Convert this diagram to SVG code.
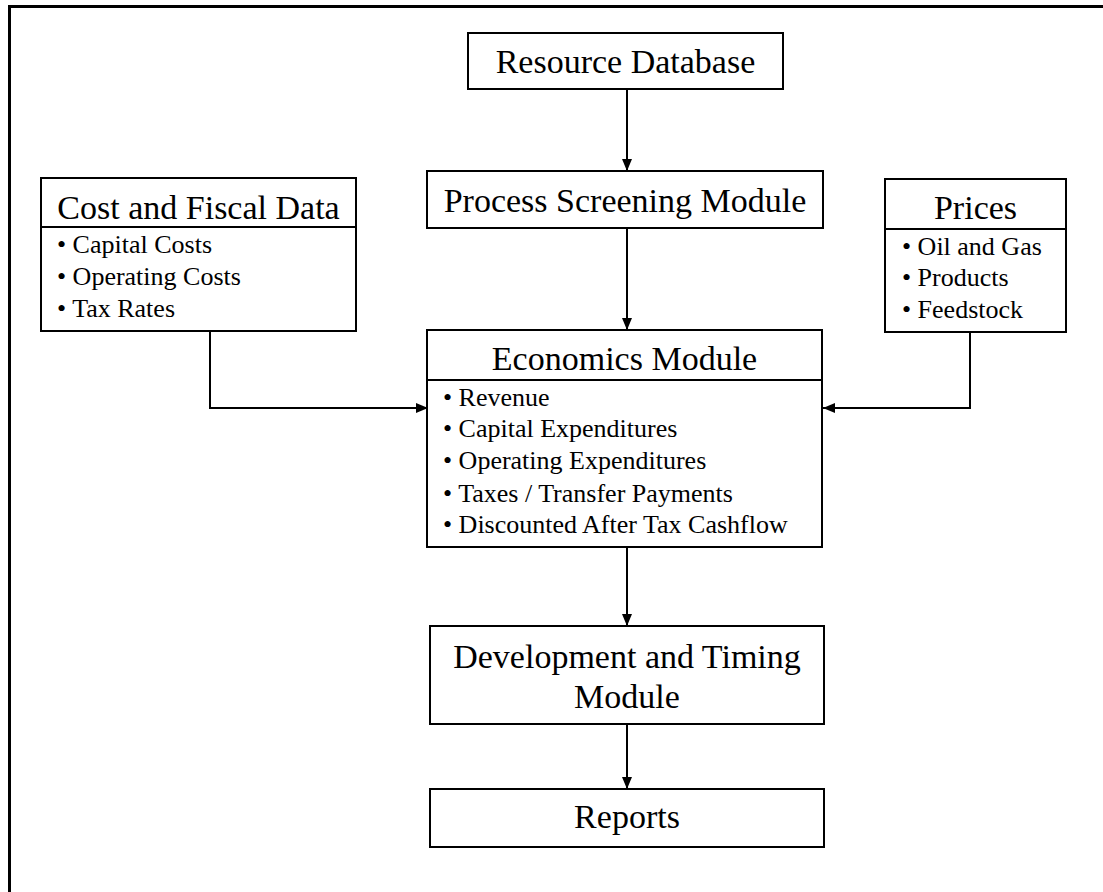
<svg xmlns="http://www.w3.org/2000/svg" width="1103" height="892" viewBox="0 0 1103 892">
  <style>
    .box { fill: #ffffff; stroke: #000000; stroke-width: 2; }
    .div { stroke: #000000; stroke-width: 2; }
    .title { font-family: "Liberation Serif", "Times New Roman", serif; font-size: 34px; fill: #000000; text-anchor: middle; }
    .item { font-family: "Liberation Serif", "Times New Roman", serif; font-size: 26px; fill: #000000; }
    .conn { fill: none; stroke: #000000; stroke-width: 2; marker-end: url(#arrow); }
  </style>
  <defs>
    <marker id="arrow" markerUnits="userSpaceOnUse" markerWidth="13" markerHeight="11" refX="12" refY="5" orient="auto">
      <path d="M0,0 L12,5 L0,10 z" fill="#000000"/>
    </marker>
  </defs>
  <rect x="0" y="0" width="1103" height="892" fill="#ffffff"/>
  <rect id="frame" x="9.5" y="6.5" width="1200" height="1000" fill="none" stroke="#000000" stroke-width="3"/>

  <g id="connectors">
    <path class="conn" d="M627,89 L627,171"/>
    <path class="conn" d="M627,228 L627,330"/>
    <path class="conn" d="M210,331 L210,408 L428,408"/>
    <path class="conn" d="M970,332 L970,408 L823,408"/>
    <path class="conn" d="M627,547 L627,626"/>
    <path class="conn" d="M627,724 L627,789"/>
  </g>

  <g id="resource-database">
    <rect class="box" x="468" y="33" width="315" height="56"/>
    <text class="title" x="625.5" y="73">Resource Database</text>
  </g>

  <g id="process-screening">
    <rect class="box" x="427" y="171" width="396" height="57"/>
    <text class="title" x="625" y="212">Process Screening Module</text>
  </g>

  <g id="cost-fiscal">
    <rect class="box" x="41" y="178" width="315" height="153"/>
    <line class="div" x1="41" y1="227" x2="356" y2="227"/>
    <text class="title" x="198.5" y="219">Cost and Fiscal Data</text>
    <text class="item" x="57" y="253">• Capital Costs</text>
    <text class="item" x="57" y="285">• Operating Costs</text>
    <text class="item" x="57" y="317">• Tax Rates</text>
  </g>

  <g id="prices">
    <rect class="box" x="885" y="179" width="181" height="153"/>
    <line class="div" x1="885" y1="229" x2="1066" y2="229"/>
    <text class="title" x="975.5" y="219">Prices</text>
    <text class="item" x="902" y="255">• Oil and Gas</text>
    <text class="item" x="902" y="286">• Products</text>
    <text class="item" x="902" y="318">• Feedstock</text>
  </g>

  <g id="economics">
    <rect class="box" x="427" y="330" width="395" height="217"/>
    <line class="div" x1="427" y1="380" x2="822" y2="380"/>
    <text class="title" x="624.5" y="370">Economics Module</text>
    <text class="item" x="443" y="406">• Revenue</text>
    <text class="item" x="443" y="437">• Capital Expenditures</text>
    <text class="item" x="443" y="469">• Operating Expenditures</text>
    <text class="item" x="443" y="502">• Taxes / Transfer Payments</text>
    <text class="item" x="443" y="533">• Discounted After Tax Cashflow</text>
  </g>

  <g id="development-timing">
    <rect class="box" x="430" y="626" width="394" height="98"/>
    <text class="title" x="627" y="668">Development and Timing</text>
    <text class="title" x="627" y="708">Module</text>
  </g>

  <g id="reports">
    <rect class="box" x="430" y="789" width="394" height="58"/>
    <text class="title" x="627" y="828">Reports</text>
  </g>
</svg>
